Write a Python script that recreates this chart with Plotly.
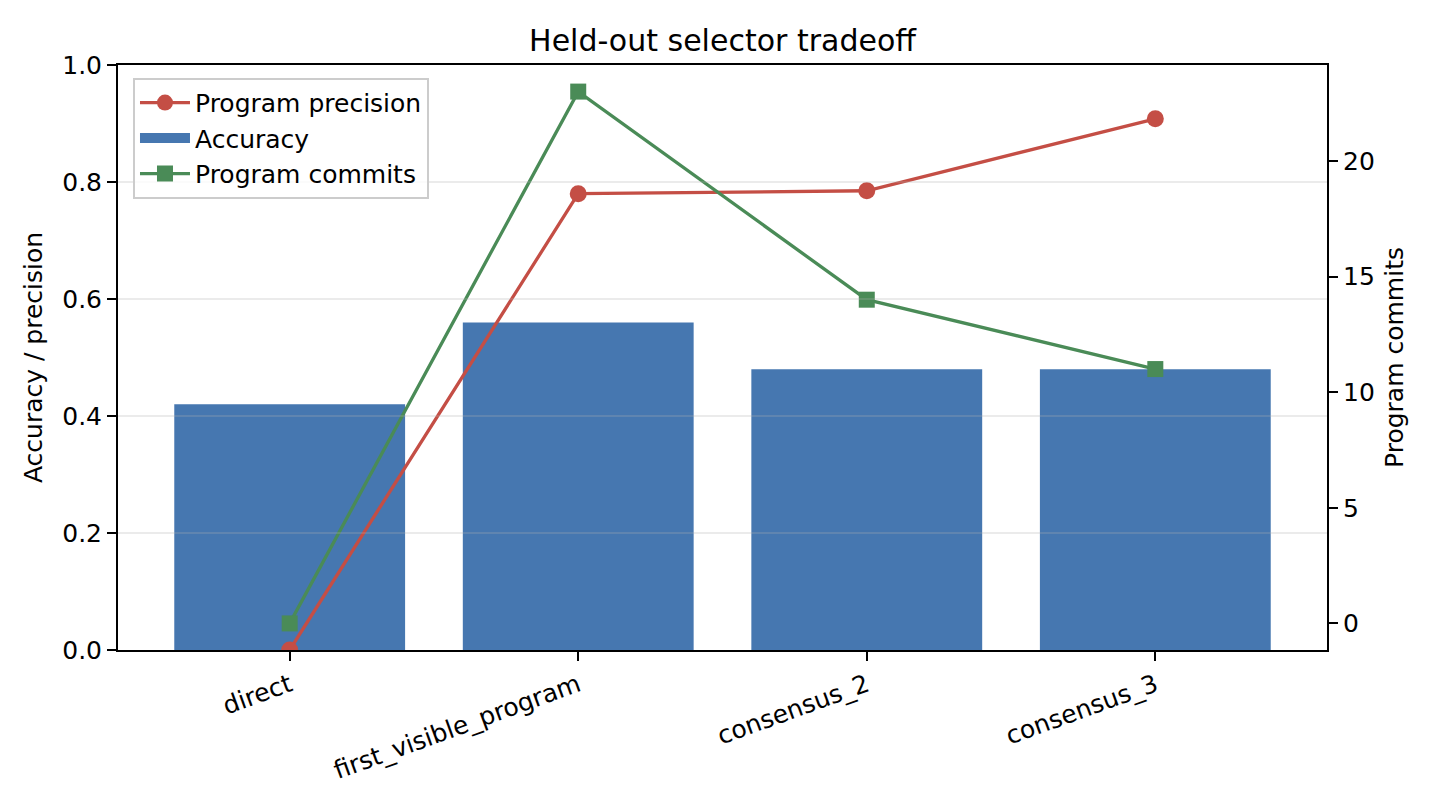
import plotly.graph_objects as go

# values
selectors = ["direct", "first_visible_program", "consensus_2", "consensus_3"]
accuracy = [0.42, 0.56, 0.48, 0.48]
precision = [0.0, 0.78, 0.785, 0.908]
commits = [0, 23, 14, 11]

left_ticks = [0.0, 0.2, 0.4, 0.6, 0.8, 1.0]
right_ticks = [0, 5, 10, 15, 20]

BLUE = "#4677b0"
RED = "#c44e45"
GREEN = "#4a8b57"
FONT = "DejaVu Sans"

fig = go.Figure()
fig.add_trace(go.Bar(
    x=selectors, y=accuracy, name="Accuracy", marker=dict(color=BLUE, line=dict(width=0)),
    showlegend=False,
))
fig.add_trace(go.Scatter(
    x=selectors, y=precision, name="Program precision", mode="lines+markers",
    line=dict(color=RED, width=3.3), marker=dict(symbol="circle", size=17, color=RED),
    legendrank=1,
))
# legend handle only: a wide patch for the bars, like matplotlib
fig.add_trace(go.Scatter(
    x=[None], y=[None], name="Accuracy", mode="lines",
    line=dict(color=BLUE, width=16), legendrank=2, hoverinfo="skip",
))
fig.add_trace(go.Scatter(
    x=selectors, y=commits, name="Program commits", mode="lines+markers", yaxis="y2",
    line=dict(color=GREEN, width=3.3), marker=dict(symbol="square", size=16, color=GREEN),
    legendrank=3,
))

# matplotlib-style grid drawn over the bars
for t in left_ticks[1:-1]:
    fig.add_shape(type="line", xref="paper", x0=0, x1=1, yref="y", y0=t, y1=t,
                  line=dict(color="rgba(176,176,176,0.25)", width=2), layer="above")

axis_common = dict(showline=True, linecolor="black", linewidth=2, ticks="outside",
                   ticklen=9, tickwidth=2, tickcolor="black", showgrid=False, zeroline=False,
                   tickfont=dict(size=25, color="black"))

fig.update_layout(
    width=1440, height=810,
    margin=dict(l=110, r=121, t=57, b=168),
    paper_bgcolor="white", plot_bgcolor="white",
    font=dict(family=FONT, size=25, color="black"),
    title=dict(text="Held-out selector tradeoff", x=0.5, xref="paper", xanchor="center",
               y=1 - 32 / 810, yanchor="middle", font=dict(size=30)),
    bargap=0.2,
    showlegend=True,
    legend=dict(x=0.0124, y=0.978, xanchor="left", yanchor="top",
                bgcolor="rgba(255,255,255,0.8)", bordercolor="#cccccc", borderwidth=2,
                font=dict(size=25), tracegroupgap=0, itemwidth=50),
    xaxis=dict(**axis_common, range=[-0.595, 3.595], tickangle=-20, mirror=True),
    yaxis=dict(**axis_common, range=[0, 1], tickvals=left_ticks,
               ticktext=[f"{t:.1f}" for t in left_ticks],
               title=dict(text="Accuracy / precision", font=dict(size=25), standoff=12)),
    yaxis2=dict(**axis_common, overlaying="y", side="right", range=[-1.15, 24.15],
                tickvals=right_ticks,
                title=dict(text="Program commits", font=dict(size=25), standoff=12)),
)

fig.write_html("out.html")
